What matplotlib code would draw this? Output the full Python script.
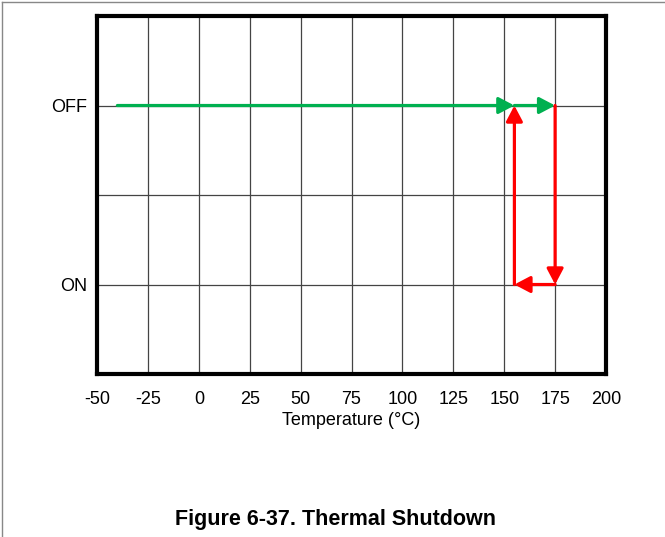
import matplotlib.pyplot as plt
from matplotlib.lines import Line2D

plt.rcParams['font.family'] = ['Liberation Sans', 'DejaVu Sans']

x_ticks = [-50, -25, 0, 25, 50, 75, 100, 125, 150, 175, 200]
state_labels = ['ON', 'OFF']
ON, OFF = 1, 3

# heating path: device stays off until shutdown at 175 C
green_x = [-40, 155, 175]
green_y = [OFF, OFF, OFF]
# shutdown / recovery loop
red_x = [175, 175, 155, 155]
red_y = [OFF, ON, ON, OFF]

fig = plt.figure(figsize=(6.65, 5.37), dpi=100)
ax = fig.add_axes([0.1459, 0.3035, 0.7654, 0.6667])

ax.set_xlim(-50, 200)
ax.set_ylim(0, 4)
ax.set_xticks(x_ticks)
ax.set_xticklabels([str(v) for v in x_ticks])
ax.set_yticks([ON, 2, OFF])
ax.set_yticklabels([state_labels[0], '', state_labels[1]])
ax.tick_params(length=0, labelsize=13)
ax.tick_params(axis='x', pad=12)
ax.tick_params(axis='y', pad=7)
ax.grid(True, color='#444444', linewidth=0.9)
for s in ax.spines.values():
    s.set_linewidth(3)
ax.set_xlabel('Temperature (°C)', fontsize=13, labelpad=3)


def draw_path(xs, ys, color):
    for i in range(len(xs) - 1):
        ax.annotate('', xy=(xs[i + 1], ys[i + 1]), xytext=(xs[i], ys[i]),
                    arrowprops=dict(arrowstyle='-|>,head_length=0.95,head_width=0.5',
                                    mutation_scale=10, color=color, lw=2.3,
                                    shrinkA=0, shrinkB=0),
                    zorder=5)


draw_path(green_x, green_y, '#00b050')
draw_path(red_x, red_y, '#ff0000')

fig.text(0.505, 0.0335, 'Figure 6-37. Thermal Shutdown', ha='center', va='center',
         fontsize=15.5, fontweight='bold')

# page frame along the top and left edges
fig.add_artist(Line2D([0.003, 1], [0.996, 0.996], color='#888888', lw=1))
fig.add_artist(Line2D([0.003, 0.003], [0, 0.996], color='#888888', lw=1))

fig.savefig('out.png', dpi=100)
